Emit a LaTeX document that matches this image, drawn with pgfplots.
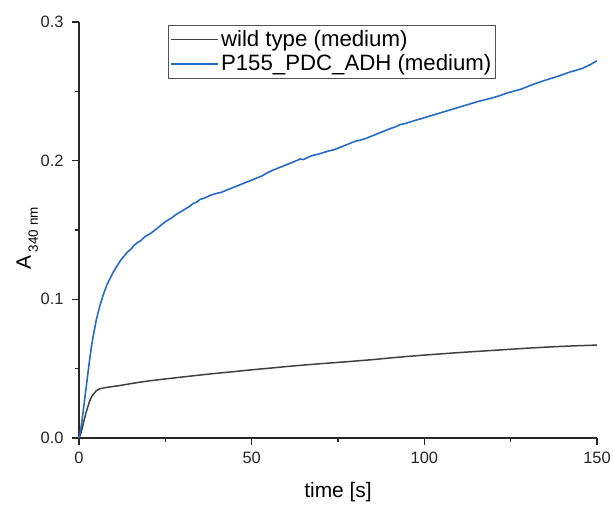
\documentclass[border=0pt]{standalone}
\usepackage{pgfplots}
\pgfplotsset{compat=1.18}
\usepackage{fontspec}
\setmainfont{Liberation Sans}
\definecolor{wtgray}{RGB}{64,64,64}
\definecolor{pblue}{RGB}{38,106,200}
\definecolor{axgray}{RGB}{40,40,40}
\begin{document}
\begin{tikzpicture}
\begin{axis}[
  scale only axis,
  width=518bp, height=416bp,
  xmin=0, xmax=150, ymin=0, ymax=0.3,
  axis lines*=left,
  axis line style={axgray, line width=1.2pt},
  xtick={0,50,100,150}, ytick={0,0.1,0.2,0.3},
  minor xtick={25,75,125}, minor ytick={0.05,0.15,0.25},
  tick align=outside,
  major tick length=7bp, minor tick length=4bp,
  every tick/.append style={axgray, line width=1.5pt},
  /pgf/number format/assume math mode=true,
  ticklabel style={font=\fontsize{16.5}{20}\selectfont, text=black!85},
  xticklabel style={yshift=-3bp},
  yticklabel style={xshift=-5bp, /pgf/number format/.cd, fixed, fixed zerofill, precision=1},
  xlabel={time [s]},
  ylabel={A\,\raisebox{-7bp}{\fontsize{13.5}{15}\selectfont 340 nm}},
  label style={font=\fontsize{21}{26}\selectfont},
  xlabel style={at={(axis description cs:0.5,-0.13)}, anchor=center},
  ylabel style={at={(axis description cs:-0.10,0.48)}, anchor=center},
  clip=false,
  legend style={at={(0.172,0.993)}, anchor=north west, draw=axgray!80, line width=0.8pt,
    font=\fontsize{22.3}{25}\selectfont, inner xsep=2pt, inner ysep=3.5pt,
    row sep=2.5pt, legend cell align=left},
]
\addplot[wtgray, line width=1.5pt,
  legend image code/.code={\draw[wtgray, line width=1.8pt] (0cm,0cm) -- (1.65cm,0cm);}] coordinates {
(0,0) (0.5,0.003) (1,0.008) (1.5,0.013) (2,0.018) (2.5,0.022) (3,0.026) (3.5,0.029) (4,0.031) (5,0.034) (6,0.0355) (7,0.036) (8,0.0365) (10,0.0372) (12,0.0379) (15,0.0392) (18,0.0404) (20,0.0411) (25,0.0426) (30,0.0440) (35,0.0454) (40,0.0467) (45,0.0479) (50,0.0492) (55,0.0503) (60,0.0515) (65,0.0526) (70,0.0536) (75,0.0545) (80,0.0555) (85,0.0565) (90,0.0577) (95,0.0588) (100,0.0598) (105,0.0607) (110,0.0616) (115,0.0624) (120,0.0632) (125,0.0640) (130,0.0648) (135,0.0655) (140,0.0661) (145,0.0666) (150,0.0670)
};
\addlegendentry{wild type (medium)}
\addplot[pblue, line width=1.6pt,
  legend image code/.code={\draw[pblue, line width=1.8pt] (0cm,0cm) -- (1.65cm,0cm);}] coordinates {
(0,0) (0.5,0.006) (1,0.015) (1.5,0.025) (2,0.035) (2.5,0.045) (3,0.055) (3.5,0.064) (4,0.072) (5,0.085) (6,0.095) (7,0.103) (8,0.110) (9,0.115) (10,0.120) (11,0.124) (12,0.128) (13,0.131) (14,0.134) (15,0.136) (16,0.139) (17,0.141) (18,0.1425) (19,0.145) (20,0.1465) (21,0.148) (22,0.150) (23,0.152) (24,0.154) (25,0.156) (26,0.1575) (27,0.159) (28,0.161) (29,0.1625) (30,0.164) (31,0.1655) (32,0.167) (33,0.169) (34,0.170) (35,0.172) (36,0.1728) (37,0.1738) (38,0.175) (39,0.1758) (40,0.1765) (41,0.177) (42,0.178) (43,0.179) (44,0.180) (45,0.181) (46,0.182) (47,0.183) (48,0.184) (49,0.185) (50,0.186) (51,0.187) (52,0.188) (53,0.189) (54,0.1905) (55,0.1918) (56,0.193) (57,0.194) (58,0.195) (59,0.196) (60,0.197) (61,0.198) (62,0.199) (63,0.200) (64,0.2012) (65,0.2008) (66,0.202) (67,0.2032) (68,0.204) (69,0.2045) (70,0.2052) (71,0.206) (72,0.2068) (73,0.2074) (74,0.208) (75,0.209) (76,0.210) (77,0.211) (78,0.212) (79,0.213) (80,0.214) (81,0.2145) (82,0.2152) (83,0.216) (84,0.217) (85,0.218) (86,0.219) (87,0.220) (88,0.221) (89,0.222) (90,0.223) (91,0.2238) (92,0.2248) (93,0.226) (94,0.2265) (95,0.2272) (96,0.228) (97,0.2288) (98,0.2295) (99,0.2302) (100,0.231) (102,0.2325) (104,0.234) (106,0.2355) (108,0.237) (110,0.2385) (112,0.240) (114,0.2415) (116,0.243) (118,0.2442) (120,0.2455) (122,0.247) (124,0.2488) (126,0.2502) (128,0.2516) (130,0.2535) (132,0.2555) (134,0.2572) (136,0.2588) (138,0.2603) (140,0.262) (142,0.2638) (144,0.2652) (146,0.2668) (148,0.2692) (150,0.2720)
};
\addlegendentry{P155\_PDC\_ADH (medium)}
\end{axis}
\pgfresetboundingbox
\path (current axis.south west) ++(-79bp,-67bp) rectangle ([xshift=17bp,yshift=22bp]current axis.north east);
\end{tikzpicture}
\end{document}
